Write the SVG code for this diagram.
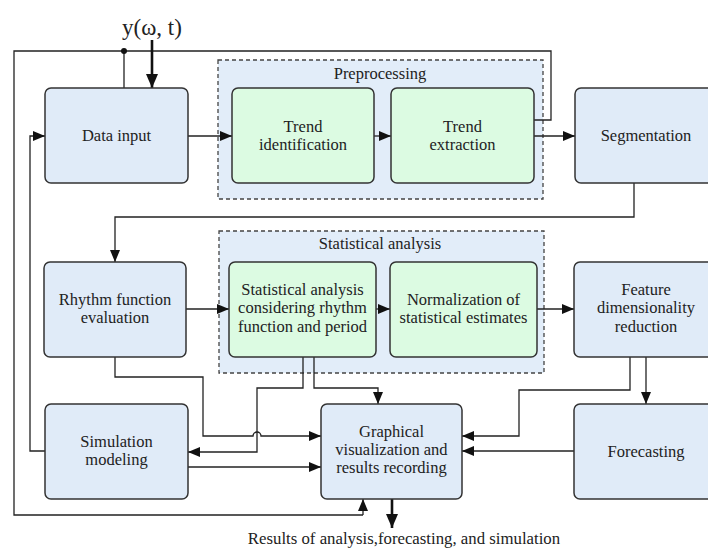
<svg xmlns="http://www.w3.org/2000/svg" width="708" height="548" viewBox="0 0 708 548">
<defs>
<marker id="ah" markerUnits="userSpaceOnUse" markerWidth="12" markerHeight="10" viewBox="0 0 12 10" refX="12" refY="5" orient="auto"><path d="M0,0 L12,5 L0,10 Z" fill="#111"/></marker>
<marker id="ahb" markerUnits="userSpaceOnUse" markerWidth="14" markerHeight="12" viewBox="0 0 14 12" refX="14" refY="6" orient="auto"><path d="M0,0 L14,6 L0,12 Z" fill="#111"/></marker>
</defs>
<style>
.blue{fill:#e0ebf8;stroke:#333;stroke-width:1.5}
.green{fill:#dcfbe2;stroke:#333;stroke-width:1.5}
.grp{fill:#e2edf9;stroke:#444;stroke-width:1.3;stroke-dasharray:4,3}
text{font-family:"Liberation Serif","DejaVu Serif",serif;font-size:16.5px;fill:#222;text-anchor:middle}
.c{fill:none;stroke:#222;stroke-width:1.3}
.ca{fill:none;stroke:#222;stroke-width:1.3;marker-end:url(#ah)}
.thick{fill:none;stroke:#111;stroke-width:2.6;marker-end:url(#ahb)}
</style>
<rect width="708" height="548" fill="#fff"/>
<g id="grp-preprocessing"><rect class="grp" x="218" y="60" width="325" height="139"/><text x="380" y="79">Preprocessing</text></g>
<g id="grp-statistical"><rect class="grp" x="219" y="231" width="325" height="142"/><text x="380" y="249">Statistical analysis</text></g>
<g id="connectors">
<path class="c" d="M534,120 H551 V51 H14 V515 H363"/>
<path class="ca" d="M363,515 V499"/>
<path class="c" d="M124,51 V88"/>
<circle cx="124" cy="51" r="3" fill="#111"/>
<path class="thick" d="M152,40 V88"/>
<path class="ca" d="M188,136 H232"/>
<path class="ca" d="M374,136 H391"/>
<path class="ca" d="M534,136 H575"/>
<path class="ca" d="M634,183 V217 H115 V262"/>
<path class="ca" d="M186,309 H229"/>
<path class="ca" d="M376,309 H390"/>
<path class="ca" d="M537,309 H574"/>
<path class="ca" d="M115,357 V377 H203 V436 H253 A4,4 0 0 1 261,436 H321"/>
<path class="ca" d="M303,357 V388 H257 V452 H188"/>
<path class="ca" d="M314,357 V388 H378 V404"/>
<path class="ca" d="M188,467 H321"/>
<path class="ca" d="M45,451 H30 V136 H45"/>
<path class="ca" d="M646,357 V404"/>
<path class="ca" d="M630,357 V390 H519 V436 H462"/>
<path class="ca" d="M574,451 H462"/>
<path class="thick" d="M392,499 V528"/>
</g>
<g id="n-data-input"><rect class="blue" x="45" y="88" width="143" height="95" rx="6"/><text x="116.5" y="141">Data input</text></g>
<g id="n-trend-identification"><rect class="green" x="232" y="88" width="142" height="95" rx="6"/><text x="303" y="132">Trend</text><text x="303" y="150">identification</text></g>
<g id="n-trend-extraction"><rect class="green" x="391" y="88" width="143" height="95" rx="6"/><text x="462.5" y="132">Trend</text><text x="462.5" y="150">extraction</text></g>
<g id="n-segmentation"><rect class="blue" x="575" y="88" width="143" height="95" rx="6"/><text x="646" y="141">Segmentation</text></g>
<g id="n-rhythm"><rect class="blue" x="44" y="262" width="142" height="95" rx="6"/><text x="115" y="305">Rhythm function</text><text x="115" y="323">evaluation</text></g>
<g id="n-stat-considering"><rect class="green" x="229" y="262" width="147" height="95" rx="6"/><text x="302.5" y="295">Statistical analysis</text><text x="302.5" y="313">considering rhythm</text><text x="302.5" y="332">function and period</text></g>
<g id="n-normalization"><rect class="green" x="390" y="262" width="147" height="95" rx="6"/><text x="463.5" y="305">Normalization of</text><text x="463.5" y="323">statistical estimates</text></g>
<g id="n-feature"><rect class="blue" x="574" y="262" width="144" height="95" rx="6"/><text x="646" y="295">Feature</text><text x="646" y="313">dimensionality</text><text x="646" y="332">reduction</text></g>
<g id="n-simulation"><rect class="blue" x="45" y="404" width="143" height="95" rx="6"/><text x="116.5" y="447">Simulation</text><text x="116.5" y="465">modeling</text></g>
<g id="n-graphical"><rect class="blue" x="321" y="404" width="141" height="95" rx="6"/><text x="391.5" y="437">Graphical</text><text x="391.5" y="455">visualization and</text><text x="391.5" y="473">results recording</text></g>
<g id="n-forecasting"><rect class="blue" x="574" y="404" width="144" height="95" rx="6"/><text x="646" y="457">Forecasting</text></g>
<text x="152" y="35" style="font-size:23px">y(ω, t)</text>
<text x="404" y="544" style="font-size:16.8px">Results of analysis,forecasting, and simulation</text>
</svg>
